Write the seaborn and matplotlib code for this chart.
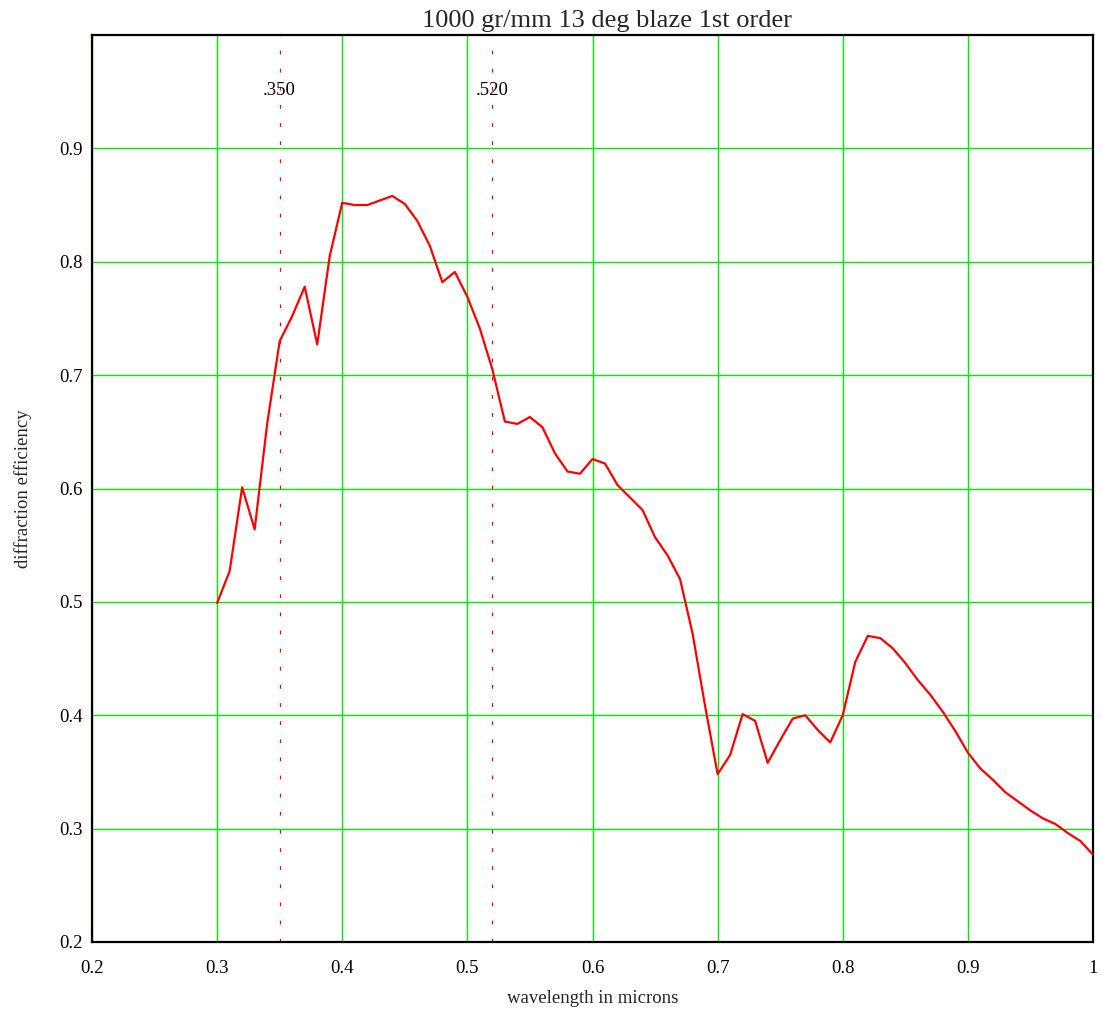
import numpy as np
import pandas as pd
import matplotlib
matplotlib.use("Agg")
import matplotlib.pyplot as plt
import seaborn as sns

# Grating efficiency, first order, sampled every 10 nm
wavelength = [0.30, 0.31, 0.32, 0.33, 0.34, 0.35, 0.36, 0.37, 0.38, 0.39,
              0.40, 0.41, 0.42, 0.43, 0.44, 0.45, 0.46, 0.47, 0.48, 0.49,
              0.50, 0.51, 0.52, 0.53, 0.54, 0.55, 0.56, 0.57, 0.58, 0.59,
              0.60, 0.61, 0.62, 0.63, 0.64, 0.65, 0.66, 0.67, 0.68, 0.69,
              0.70, 0.71, 0.72, 0.73, 0.74, 0.75, 0.76, 0.77, 0.78, 0.79,
              0.80, 0.81, 0.82, 0.83, 0.84, 0.85, 0.86, 0.87, 0.88, 0.89,
              0.90, 0.91, 0.92, 0.93, 0.94, 0.95, 0.96, 0.97, 0.98, 0.99,
              1.00]
efficiency = [0.499, 0.527, 0.601, 0.564, 0.657, 0.730, 0.752, 0.778, 0.727, 0.805,
              0.852, 0.850, 0.850, 0.854, 0.858, 0.851, 0.836, 0.814, 0.782, 0.791,
              0.769, 0.741, 0.705, 0.659, 0.657, 0.663, 0.654, 0.631, 0.615, 0.613,
              0.626, 0.622, 0.603, 0.592, 0.581, 0.557, 0.541, 0.520, 0.472, 0.408,
              0.348, 0.365, 0.401, 0.395, 0.358, 0.378, 0.397, 0.400, 0.387, 0.376,
              0.400, 0.447, 0.470, 0.468, 0.459, 0.446, 0.431, 0.418, 0.403, 0.386,
              0.367, 0.353, 0.343, 0.332, 0.324, 0.316, 0.309, 0.304, 0.296, 0.289,
              0.277]

# Marker wavelengths and their labels
markers = [0.350, 0.520]
marker_labels = [".350", ".520"]

xticks = [0.2, 0.3, 0.4, 0.5, 0.6, 0.7, 0.8, 0.9, 1.0]
xtick_labels = ["0.2", "0.3", "0.4", "0.5", "0.6", "0.7", "0.8", "0.9", "1"]
yticks = [0.2, 0.3, 0.4, 0.5, 0.6, 0.7, 0.8, 0.9]
ytick_labels = ["0.2", "0.3", "0.4", "0.5", "0.6", "0.7", "0.8", "0.9"]

df = pd.DataFrame({"wavelength": wavelength, "efficiency": efficiency})

sns.set_style("white")
plt.rcParams["font.family"] = ["Liberation Serif", "DejaVu Serif"]

fig = plt.figure(figsize=(11.02, 10.10), dpi=100)
ax = fig.add_axes([92 / 1102, 1 - 942 / 1010, 1001 / 1102, 907 / 1010])

ax.set_xlim(0.2, 1.0)
ax.set_ylim(0.2, 1.0)
ax.set_xticks(xticks)
ax.set_xticklabels(xtick_labels)
ax.set_yticks(yticks)
ax.set_yticklabels(ytick_labels)
ax.tick_params(axis="both", length=0, labelsize=13.5, colors="black")
ax.tick_params(axis="x", pad=13)
ax.tick_params(axis="y", pad=7)

ax.set_axisbelow(True)
ax.grid(True, color="#00ee00", linewidth=1.0)

for m, lab in zip(markers, marker_labels):
    ax.axvline(m, color="red", linewidth=0.9, linestyle=(0, (3, 11.5)), zorder=2)
    ax.text(m, 0.951, lab, ha="center", va="center", fontsize=13.5, color="black")

sns.lineplot(data=df, x="wavelength", y="efficiency", ax=ax,
             color="red", linewidth=1.6, zorder=3)

for s in ax.spines.values():
    s.set_visible(True)
    s.set_color("black")
    s.set_linewidth(1.6)

ax.set_title("1000 gr/mm 13 deg blaze 1st order", fontsize=19, x=0.5145, pad=6)
ax.set_xlabel("wavelength in microns", fontsize=13.5, labelpad=9)
ax.set_ylabel("diffraction efficiency", fontsize=13.5, labelpad=19)

fig.savefig("out.png", dpi=100, facecolor="white")
